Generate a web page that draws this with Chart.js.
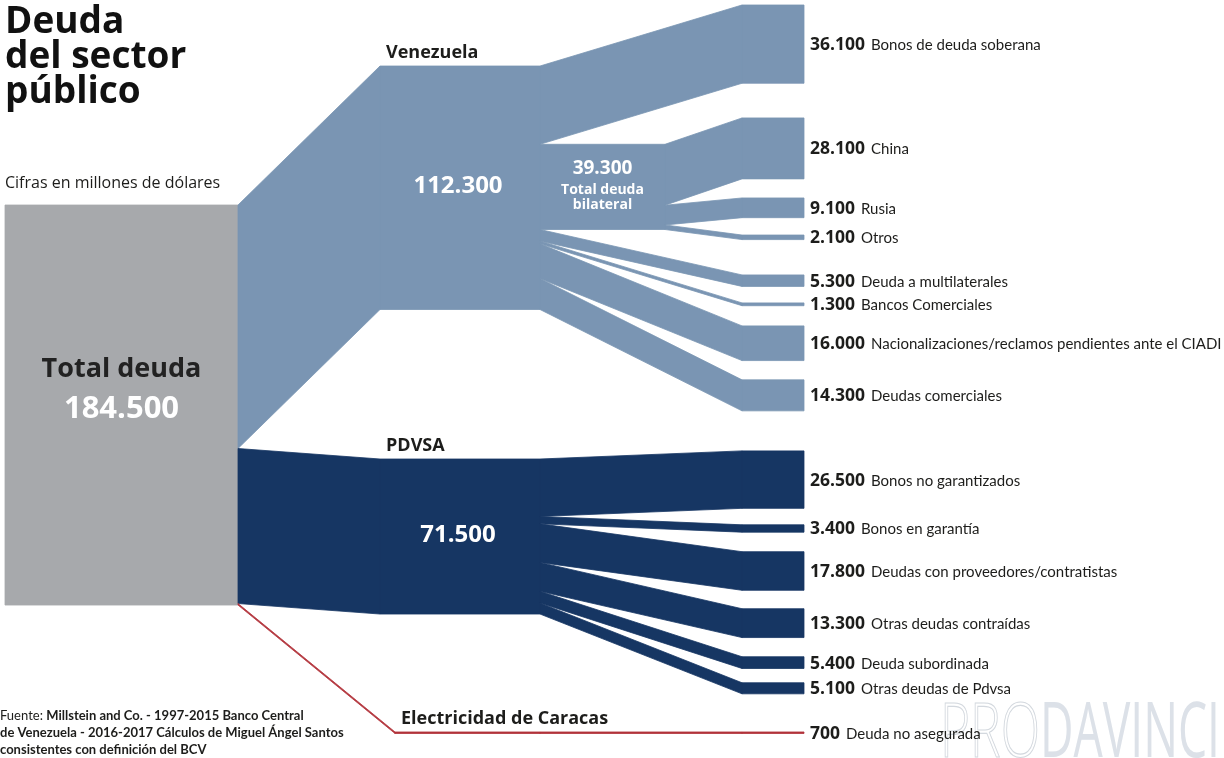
<!DOCTYPE html>
<html lang="es">
<head>
<meta charset="utf-8">
<title>Deuda del sector público</title>
<script src="https://cdn.jsdelivr.net/npm/chart.js@4.4.1/dist/chart.umd.min.js"></script>
<style>
  html, body { margin: 0; padding: 0; background: #fff; }
  #wrap { position: relative; width: 1224px; height: 758px; }
</style>
</head>
<body>
<div id="wrap"><canvas id="deudaChart" width="1224" height="758"></canvas></div>
<script>
// Data (millones de dólares)
const totalLabel = "Total deuda";
const totalValue = 184500;

const groupNames = ["Venezuela", "PDVSA", "Electricidad de Caracas"];
const groupValues = [112300, 71500, 700];

const venezuelaCategories = ["Bonos de deuda soberana", "Total deuda bilateral", "Deuda a multilaterales",
    "Bancos Comerciales", "Nacionalizaciones/reclamos pendientes ante el CIADI", "Deudas comerciales"];
const venezuelaValues = [36100, 39300, 5300, 1300, 16000, 14300];

const bilateralCategories = ["China", "Rusia", "Otros"];
const bilateralValues = [28100, 9100, 2100];

const pdvsaCategories = ["Bonos no garantizados", "Bonos en garantía", "Deudas con proveedores/contratistas",
    "Otras deudas contraídas", "Deuda subordinada", "Otras deudas de Pdvsa"];
const pdvsaValues = [26500, 3400, 17800, 13300, 5400, 5100];

const electricidadCategories = ["Deuda no asegurada"];
const electricidadValues = [700];

// Layout (x in pixel units of the x scale, gaps in millones on the y scale)
const colors = ["#7a95b3", "#163663", "#b2333b"];
const grayColor = "#a7a9ac";
const col = { total: [5, 238], group: [380, 540], elecGroup: 395, bilateral: 665, right: [742, 804], label: 810 };
const Y_MAX = 349600;
const totalTop = 94560;
const groupGaps = [30450, 68950, 54400];
const rightGaps = [2300, 16000, 8800, 8000, 16300, 7600, 9300, 8900, 18450, 7600, 9000, 8500, 8850, 6600, 17600];

const groupCategories = [venezuelaCategories, pdvsaCategories, electricidadCategories];
const groupItemValues = [venezuelaValues, pdvsaValues, electricidadValues];
const bilateralIndex = venezuelaCategories.indexOf( "Total deuda bilateral" );

const FONT = "\"Open Sans\", \"Noto Sans\", sans-serif";
const TEXT_FONT = "Lato, \"Open Sans\", sans-serif";
const INK = "#1d1d1b";

function fmt( v ) {
    return String( v ).replace( /\B(?=(\d{3})+(?!\d))/g, "." );
}

// flat list of the end nodes, top to bottom
const rightNodes = [];
groupNames.forEach( ( g, gi ) => {
    groupCategories[gi].forEach( ( c, i ) => {
        if ( gi === 0 && i === bilateralIndex ) {
            bilateralCategories.forEach( ( b, j ) => rightNodes.push( { label: b, value: bilateralValues[j], group: gi } ) );
        } else {
            rightNodes.push( { label: c, value: groupItemValues[gi][i], group: gi } );
        }
    } );
} );
let rc = 0;
rightNodes.forEach( ( n, i ) => {
    rc += rightGaps[i];
    n.top = rc;
    rc += n.value;
} );
const findRight = label => rightNodes.find( n => n.label === label );

const sankeyPlugin = {
    id: "sankeyBands",
    beforeDraw( chart ) {
        const ctx = chart.ctx;
        // watermark
        ctx.save();
        ctx.font = "300 76px " + FONT;
        let w = ctx.measureText( "PRO" ).width;
        ctx.translate( 940, 757 );
        ctx.save();
        ctx.scale( 100 / w, 1 );
        ctx.strokeStyle = "#d3d8de";
        ctx.lineWidth = 1.2;
        ctx.strokeText( "PRO", 0, 0 );
        ctx.restore();
        ctx.font = "400 76px " + FONT;
        w = ctx.measureText( "DAVINCI" ).width;
        ctx.translate( 100, 0 );
        ctx.scale( 180 / w, 1 );
        ctx.fillStyle = "#dce1e8";
        ctx.fillText( "DAVINCI", 0, 0 );
        ctx.restore();
    },
    afterDraw( chart ) {
        const ctx = chart.ctx;
        const xs = chart.scales.x, ys = chart.scales.y;
        const X = v => xs.getPixelForValue( v );
        const Y = v => ys.getPixelForValue( v );

        function band( x0, a0, a1, x1, b0, b1, color ) {
            ctx.beginPath();
            ctx.moveTo( X( x0 ), Y( a0 ) );
            ctx.lineTo( X( x1 ), Y( b0 ) );
            ctx.lineTo( X( x1 ), Y( b1 ) );
            ctx.lineTo( X( x0 ), Y( a1 ) );
            ctx.closePath();
            ctx.fillStyle = color;
            ctx.fill();
            ctx.strokeStyle = color;
            ctx.lineWidth = 0.8;
            ctx.stroke();
        }
        function rect( x0, x1, top, bottom, color ) {
            band( x0, top, bottom, x1, top, bottom, color );
        }

        ctx.save();
        rect( col.total[0], col.total[1], totalTop, totalTop + totalValue, grayColor );

        const groupTops = [];
        let gc = 0, tc = totalTop;
        groupNames.forEach( ( g, gi ) => {
            const val = groupValues[gi];
            const color = colors[gi];
            gc += groupGaps[gi];
            const top = gc;
            groupTops.push( top );
            gc += val;
            const gx0 = gi === 2 ? col.elecGroup : col.group[0];
            band( col.total[1], tc, tc + val, gx0, top, top + val, color );
            tc += val;
            rect( gx0, col.group[1], top, top + val, color );

            let sc = top;
            groupCategories[gi].forEach( ( c, i ) => {
                const v = groupItemValues[gi][i];
                if ( gi === 0 && i === bilateralIndex ) {
                    rect( col.group[1], col.bilateral, sc, sc + v, color );
                    let bc = sc;
                    bilateralCategories.forEach( ( b, j ) => {
                        const bv = bilateralValues[j];
                        const n = findRight( b );
                        band( col.bilateral, bc, bc + bv, col.right[0], n.top, n.top + bv, color );
                        rect( col.right[0], col.right[1], n.top, n.top + bv, color );
                        bc += bv;
                    } );
                } else {
                    const n = findRight( c );
                    band( col.group[1], sc, sc + v, col.right[0], n.top, n.top + v, color );
                    rect( col.right[0], col.right[1], n.top, n.top + v, color );
                }
                sc += v;
            } );
        } );

        // end node labels
        ctx.textAlign = "left";
        ctx.textBaseline = "alphabetic";
        rightNodes.forEach( n => {
            const cy = Y( n.top + n.value / 2 ) + 6;
            ctx.fillStyle = INK;
            ctx.font = "bold 17.5px " + FONT;
            const num = fmt( n.value );
            ctx.fillText( num, X( col.label ), cy );
            const w = ctx.measureText( num ).width;
            ctx.font = "15px " + TEXT_FONT;
            ctx.fillText( n.label, X( col.label ) + w + 6, cy );
        } );

        // group labels
        groupNames.forEach( ( g, gi ) => {
            const gx0 = gi === 2 ? col.elecGroup : col.group[0];
            ctx.fillStyle = INK;
            ctx.font = "bold 18px " + FONT;
            ctx.textAlign = "left";
            ctx.fillText( g, X( gx0 ) + 6, Y( groupTops[gi] ) - 8 );
            if ( gi < 2 ) {
                ctx.fillStyle = "#ffffff";
                ctx.font = "bold 24px " + FONT;
                ctx.textAlign = "center";
                const cy = Y( groupTops[gi] + groupValues[gi] / 2 );
                ctx.fillText( fmt( groupValues[gi] ), ( X( col.group[0] ) + X( col.group[1] ) ) / 2 - 2, cy + 5 );
            }
        } );

        // bilateral label
        const bTop = groupTops[0] + venezuelaValues.slice( 0, bilateralIndex ).reduce( ( a, b ) => a + b, 0 );
        const bcy = Y( bTop + venezuelaValues[bilateralIndex] / 2 );
        const bcx = ( X( col.group[1] ) + X( col.bilateral ) ) / 2;
        ctx.textAlign = "center";
        ctx.fillStyle = "#ffffff";
        ctx.font = "bold 19px " + FONT;
        ctx.fillText( fmt( venezuelaValues[bilateralIndex] ), bcx, bcy - 13 );
        ctx.font = "bold 14px " + FONT;
        ctx.fillText( "Total deuda", bcx, bcy + 7 );
        ctx.fillText( "bilateral", bcx, bcy + 22 );

        // total label
        const tcx = ( X( col.total[0] ) + X( col.total[1] ) ) / 2;
        const tcy = Y( totalTop + totalValue / 2 );
        ctx.fillStyle = "#222222";
        ctx.font = "bold 27px " + FONT;
        ctx.fillText( totalLabel, tcx, tcy - 28 );
        ctx.fillStyle = "#ffffff";
        ctx.font = "bold 31px " + FONT;
        ctx.fillText( fmt( totalValue ), tcx, tcy + 13 );

        // title, subtitle, source
        ctx.textAlign = "left";
        ctx.fillStyle = "#111111";
        ctx.font = "bold 37px " + FONT;
        ["Deuda", "del sector", "público"].forEach( ( t, i ) => ctx.fillText( t, 5, 33 + i * 35 ) );
        ctx.fillStyle = INK;
        ctx.font = "16px " + FONT;
        ctx.fillText( "Cifras en millones de dólares", 5, 188 );

        ctx.font = "13px " + TEXT_FONT;
        ctx.fillText( "Fuente: ", 0, 720 );
        const fw = ctx.measureText( "Fuente: " ).width;
        ctx.font = "bold 13px " + TEXT_FONT;
        ctx.fillText( "Millstein and Co. - 1997-2015 Banco Central", fw, 720 );
        ctx.fillText( "de Venezuela - 2016-2017 Cálculos de Miguel Ángel Santos", 0, 737 );
        ctx.fillText( "consistentes con definición del BCV", 0, 754 );
        ctx.restore();
    }
};

const chartCanvas = document.getElementById( "deudaChart" );
new Chart( chartCanvas.getContext( "2d" ), {
    type: "scatter",
    data: { datasets: [{ data: [] }] },
    options: {
        responsive: false,
        animation: false,
        devicePixelRatio: 1,
        layout: { padding: 0 },
        scales: {
            x: { type: "linear", min: 0, max: 1224, display: false },
            y: { type: "linear", min: 0, max: Y_MAX, reverse: true, display: false }
        },
        plugins: {
            legend: { display: false },
            tooltip: { enabled: false }
        }
    },
    plugins: [sankeyPlugin]
} );
</script>
</body>
</html>
